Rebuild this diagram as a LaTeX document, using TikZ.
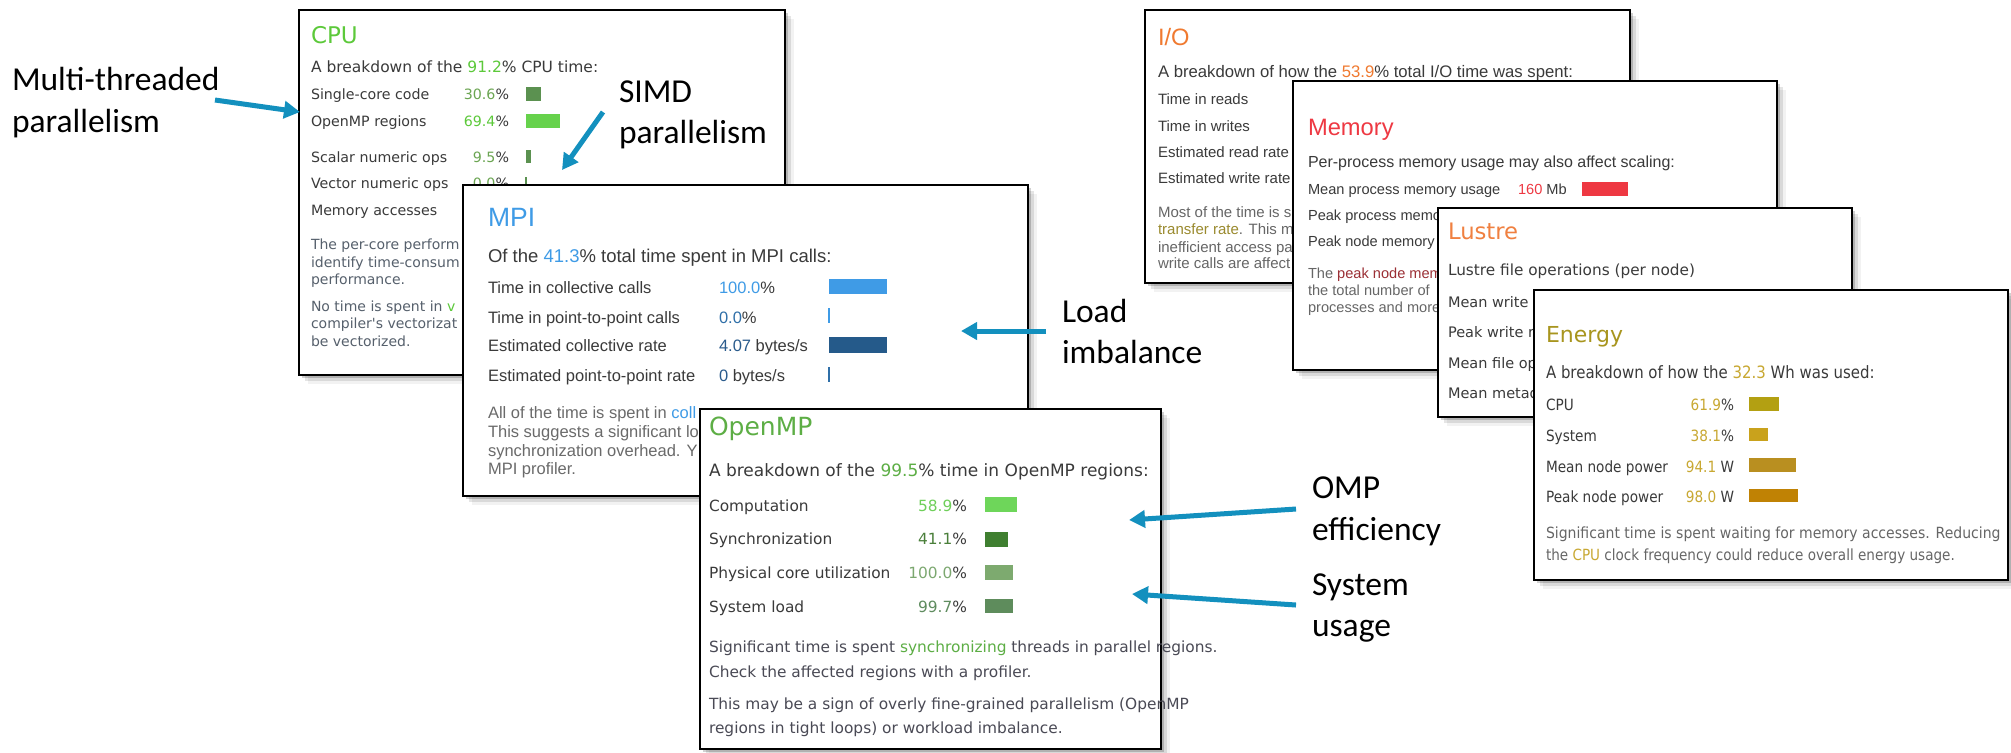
\documentclass[tikz,border=0pt]{standalone}
\usepackage{fontspec}
\usetikzlibrary{fit,shadows,arrows.meta}
\newfontfamily\dvs{DejaVu Sans}
\newfontfamily\dvn[FakeStretch=0.88]{DejaVu Sans}
\newfontfamily\dvw[FakeStretch=0.91]{DejaVu Sans}
\newfontfamily\lbs{Liberation Sans}
\newfontfamily\clb{Carlito}
\newcommand\sz[1]{\fontsize{#1pt}{#1pt}\selectfont}

% palette
\definecolor{lbl}{HTML}{3A3A3A}
\definecolor{cpug}{HTML}{5CC93A}
\definecolor{cpugdim}{HTML}{6BA552}
\definecolor{cpupara}{HTML}{56606C}
\definecolor{barlt}{HTML}{66D24C}
\definecolor{bardk}{HTML}{5B9150}
\definecolor{mpib}{HTML}{3F9BE6}
\definecolor{mpibd}{HTML}{2F6FA8}
\definecolor{mpibdd}{HTML}{2A5B8C}
\definecolor{mpibar}{HTML}{255A8A}
\definecolor{mpipara}{HTML}{6A6A6A}
\definecolor{ompg}{HTML}{5DAE45}
\definecolor{ompa}{HTML}{6FCF5A}
\definecolor{ompb}{HTML}{4A7F3A}
\definecolor{ompc}{HTML}{7CA870}
\definecolor{ompd}{HTML}{5F8C5F}
\definecolor{ompbara}{HTML}{6ED65A}
\definecolor{ompbarb}{HTML}{3F7F30}
\definecolor{ompbarc}{HTML}{7DAA6F}
\definecolor{ompbard}{HTML}{5E8C5C}
\definecolor{omppara}{HTML}{4A4A55}
\definecolor{iooran}{HTML}{F07A30}
\definecolor{iopara}{HTML}{666666}
\definecolor{olivetx}{HTML}{9A8A2E}
\definecolor{memred}{HTML}{EE3842}
\definecolor{memdark}{HTML}{9B2F35}
\definecolor{lustor}{HTML}{F08040}
\definecolor{enol}{HTML}{A8951E}
\definecolor{engold}{HTML}{C8A832}
\definecolor{ena}{HTML}{B3A012}
\definecolor{enb}{HTML}{C9A21C}
\definecolor{enc}{HTML}{B98F20}
\definecolor{endd}{HTML}{C08204}
\definecolor{arrowteal}{HTML}{1390BE}

\tikzset{
  panelbox/.style={draw=black, line width=1.4pt, fill=white, inner sep=0pt, outer sep=0pt,
    drop shadow={shadow xshift=1.5pt, shadow yshift=-1.5pt, opacity=0.18, fill=black},
    drop shadow={shadow xshift=3pt, shadow yshift=-3pt, opacity=0.10, fill=black},
    drop shadow={shadow xshift=4.5pt, shadow yshift=-4.5pt, opacity=0.05, fill=black}},
  txt/.style={inner sep=0pt, outer sep=0pt, anchor=base west},
  txr/.style={inner sep=0pt, outer sep=0pt, anchor=base east},
  lab/.style={txt, font=\clb\sz{16.75}, text=black},
  pointer/.style={draw=arrowteal, line width=2.5pt, -{Triangle[length=8pt,width=8.5pt]}},
  cpurow/.style={txt, font=\dvs\sz{7.1}, text=lbl},
  cpuval/.style={txr, font=\dvs\sz{7.1}, text=lbl},
  cpupar/.style={txt, font=\dvs\sz{7}, text=cpupara},
  mpirow/.style={txt, font=\lbs\sz{8.25}, text=lbl},
  mpipar/.style={txt, font=\lbs\sz{8.25}, text=mpipara},
  omprow/.style={txt, font=\dvs\sz{7.7}, text=lbl},
  ompval/.style={txr, font=\dvs\sz{7.7}, text=lbl},
  omppar/.style={txt, font=\dvs\sz{7.7}, text=omppara},
  iorow/.style={txt, font=\lbs\sz{7.5}, text=lbl},
  iopar/.style={txt, font=\lbs\sz{7.5}, text=iopara},
  memrow/.style={txt, font=\lbs\sz{7.3}, text=lbl},
  mempar/.style={txt, font=\lbs\sz{7.3}, text=iopara},
  lusrow/.style={txt, font=\dvs\sz{7.25}, text=lbl},
  enrow/.style={txt, font=\dvn\sz{7.75}, text=lbl},
  enval/.style={txr, font=\dvn\sz{7.75}, text=lbl},
  enpar/.style={txt, font=\dvn\sz{7.7}, text=iopara},
  enparw/.style={txt, font=\dvw\sz{7.7}, text=iopara},
}

\begin{document}
\begin{tikzpicture}[x=0.5pt, y=-0.5pt]
\fill[white] (0,0) rectangle (2011,752);
\useasboundingbox (0,0) rectangle (2011,752);

% ---------------- CPU ----------------
\coordinate (cpu-a) at (299,10); \coordinate (cpu-b) at (785,375);
\node[panelbox, fit=(cpu-a)(cpu-b)] (cpu) {};
\node[txt, font=\dvs\sz{11.5}, text=cpug] (cpu-title) at (311,43) {CPU};
\node[txt, font=\dvs\sz{7.75}, text=lbl] (cpu-head) at (311,72) {A breakdown of the \textcolor{cpug}{91.2}\% CPU time:};
\node[cpurow] (cpu-r1) at (311,99) {Single-core code};
\node[cpurow] (cpu-r2) at (311,126) {OpenMP regions};
\node[cpurow] (cpu-r3) at (311,162) {Scalar numeric ops};
\node[cpurow] (cpu-r4) at (311,188) {Vector numeric ops};
\node[cpurow] (cpu-r5) at (311,215) {Memory accesses};
\node[cpuval] (cpu-v1) at (509,99) {\textcolor{cpugdim}{30.6}\%};
\node[cpuval] (cpu-v2) at (509,126) {\textcolor{cpug}{69.4}\%};
\node[cpuval] (cpu-v3) at (509,162) {\textcolor{cpugdim}{9.5}\%};
\node[cpuval] (cpu-v4) at (509,188) {\textcolor{cpugdim}{0.0}\%};
\fill[bardk] (526,87) rectangle (541,101);
\fill[barlt] (526,114) rectangle (560,128);
\fill[bardk] (526,150) rectangle (531,163);
\draw[bardk, line width=0.6pt] (526,177) -- (526,191);
\node[cpupar] (cpu-p1) at (311,249) {The per-core perform};
\node[cpupar] (cpu-p2) at (311,267) {identify time-consum};
\node[cpupar] (cpu-p3) at (311,284) {performance.};
\node[cpupar] (cpu-p4) at (311,311) {No time is spent in \textcolor{cpug}{v}};
\node[cpupar] (cpu-p5) at (311,328) {compiler's vectorizat};
\node[cpupar] (cpu-p6) at (311,346) {be vectorized.};

% ---------------- MPI ----------------
\coordinate (mpi-a) at (463,185); \coordinate (mpi-b) at (1028,496);
\node[panelbox, fit=(mpi-a)(mpi-b)] (mpi) {};
\node[txt, font=\lbs\sz{13.25}, text=mpib] (mpi-title) at (488,226) {MPI};
\node[txt, font=\lbs\sz{9.25}, text=lbl] (mpi-head) at (488,262) {Of the \textcolor{mpib}{41.3}\% total time spent in MPI calls:};
\node[mpirow] (mpi-r1) at (488,293) {Time in collective calls};
\node[mpirow] (mpi-r2) at (488,323) {Time in point-to-point calls};
\node[mpirow] (mpi-r3) at (488,351) {Estimated collective rate};
\node[mpirow] (mpi-r4) at (488,381) {Estimated point-to-point rate};
\node[mpirow] (mpi-v1) at (719,293) {\textcolor{mpib}{100.0}\%};
\node[mpirow] (mpi-v2) at (719,323) {\textcolor{mpibd}{0.0}\%};
\node[mpirow] (mpi-v3) at (719,351) {\textcolor{mpibdd}{4.07} bytes/s};
\node[mpirow] (mpi-v4) at (719,381) {\textcolor{mpibdd}{0} bytes/s};
\fill[mpib] (829,279) rectangle (887,294);
\draw[mpib, line width=0.6pt] (829,308) -- (829,323);
\fill[mpibar] (829,337) rectangle (887,353);
\draw[mpibd, line width=0.6pt] (829,367) -- (829,382);
\node[mpipar] (mpi-p1) at (488,418) {All of the time is spent in \textcolor{mpib}{coll}};
\node[mpipar] (mpi-p2) at (488,437) {This suggests a significant lo};
\node[mpipar] (mpi-p3) at (488,456) {synchronization overhead. Y};
\node[mpipar] (mpi-p4) at (488,474) {MPI profiler.};

% ---------------- OpenMP ----------------
\coordinate (omp-a) at (700,409); \coordinate (omp-b) at (1161,749);
\node[panelbox, fit=(omp-a)(omp-b)] (omp) {};
\node[txt, font=\dvs\sz{12.5}, text=ompg] (omp-title) at (709,435) {OpenMP};
\node[txt, font=\dvs\sz{8.5}, text=lbl] (omp-head) at (709,476) {A breakdown of the \textcolor{ompg}{99.5}\% time in OpenMP regions:};
\node[omprow] (omp-r1) at (709,511) {Computation};
\node[omprow] (omp-r2) at (709,544) {Synchronization};
\node[omprow] (omp-r3) at (709,578) {Physical core utilization};
\node[omprow] (omp-r4) at (709,612) {System load};
\node[ompval] (omp-v1) at (967,511) {\textcolor{ompa}{58.9}\%};
\node[ompval] (omp-v2) at (967,544) {\textcolor{ompb}{41.1}\%};
\node[ompval] (omp-v3) at (967,578) {\textcolor{ompc}{100.0}\%};
\node[ompval] (omp-v4) at (967,612) {\textcolor{ompd}{99.7}\%};
\fill[ompbara] (985,497) rectangle (1017,512);
\fill[ompbarb] (985,532) rectangle (1008,547);
\fill[ompbarc] (985,565) rectangle (1013,580);
\fill[ompbard] (985,599) rectangle (1013,613);
\node[omppar] (omp-p1) at (709,652) {Significant time is spent \textcolor{ompg}{synchronizing} threads in parallel regions.};
\node[omppar] (omp-p2) at (709,677) {Check the affected regions with a profiler.};
\node[omppar] (omp-p3) at (709,709) {This may be a sign of overly fine-grained parallelism (OpenMP};
\node[omppar] (omp-p4) at (709,733) {regions in tight loops) or workload imbalance.};

% ---------------- I/O ----------------
\coordinate (io-a) at (1145,10); \coordinate (io-b) at (1630,283);
\node[panelbox, fit=(io-a)(io-b)] (io) {};
\node[txt, font=\lbs\sz{11.85}, text=iooran] (io-title) at (1158,45) {I/O};
\node[txt, font=\lbs\sz{8.35}, text=lbl] (io-head) at (1158,77) {A breakdown of how the \textcolor{iooran}{53.9}\% total I/O time was spent:};
\node[iorow] (io-r1) at (1158,104) {Time in reads};
\node[iorow] (io-r2) at (1158,131) {Time in writes};
\node[iorow] (io-r3) at (1158,157) {Estimated read rate};
\node[iorow] (io-r4) at (1158,183) {Estimated write rate};
\node[iopar] (io-p1) at (1158,217) {Most of the time is s};
\node[iopar] (io-p2) at (1158,234) {\textcolor{olivetx}{transfer rate}. This m};
\node[iopar] (io-p3) at (1158,252) {inefficient access pa};
\node[iopar] (io-p4) at (1158,268) {write calls are affect};

% ---------------- Memory ----------------
\coordinate (mem-a) at (1293,81); \coordinate (mem-b) at (1777,370);
\node[panelbox, fit=(mem-a)(mem-b)] (mem) {};
\node[txt, font=\lbs\sz{11.85}, text=memred] (mem-title) at (1308,135) {Memory};
\node[txt, font=\lbs\sz{8}, text=lbl] (mem-head) at (1308,167) {Per-process memory usage may also affect scaling:};
\node[memrow] (mem-r1) at (1308,194) {Mean process memory usage};
\node[memrow] (mem-r2) at (1308,220) {Peak process memo};
\node[memrow] (mem-r3) at (1308,246) {Peak node memory};
\node[memrow] (mem-v1) at (1518,194) {\textcolor{memred}{160} Mb};
\fill[memred] (1582,182) rectangle (1628,196);
\fill[memred] (1582,207) rectangle (1632,221);
\node[mempar] (mem-p1) at (1308,278) {The \textcolor{memdark}{peak node mem}};
\node[mempar] (mem-p2) at (1308,295) {the total number of};
\node[mempar] (mem-p3) at (1308,312) {processes and more};

% ---------------- Lustre ----------------
\coordinate (lus-a) at (1438,208); \coordinate (lus-b) at (1852,417);
\node[panelbox, fit=(lus-a)(lus-b)] (lus) {};
\node[txt, font=\dvs\sz{11.35}, text=lustor] (lus-title) at (1448,239) {Lustre};
\node[txt, font=\dvs\sz{7.65}, text=lbl] (lus-head) at (1448,275) {Lustre file operations (per node)};
\node[lusrow] (lus-r1) at (1448,307) {Mean write r};
\node[lusrow] (lus-r2) at (1448,337) {Peak write ra};
\node[lusrow] (lus-r3) at (1448,368) {Mean file op};
\node[lusrow] (lus-r4) at (1448,398) {Mean metad};

% ---------------- Energy ----------------
\coordinate (en-a) at (1534,290); \coordinate (en-b) at (2008,580);
\node[panelbox, fit=(en-a)(en-b)] (en) {};
\node[txt, font=\dvs\sz{11}, text=enol] (en-title) at (1546,342) {Energy};
\node[txt, font=\dvn\sz{8.5}, text=lbl] (en-head) at (1546,378) {A breakdown of how the \textcolor{engold}{32.3} Wh was used:};
\node[enrow] (en-r1) at (1546,410) {CPU};
\node[enrow] (en-r2) at (1546,441) {System};
\node[enrow] (en-r3) at (1546,472) {Mean node power};
\node[enrow] (en-r4) at (1546,502) {Peak node power};
\node[enval] (en-v1) at (1734,410) {\textcolor{engold}{61.9}\%};
\node[enval] (en-v2) at (1734,441) {\textcolor{engold}{38.1}\%};
\node[enval] (en-v3) at (1734,472) {\textcolor{engold}{94.1} W};
\node[enval] (en-v4) at (1734,502) {\textcolor{engold}{98.0} W};
\fill[ena] (1749,397) rectangle (1779,411);
\fill[enb] (1749,428) rectangle (1768,441);
\fill[enc] (1749,458) rectangle (1796,472);
\fill[endd] (1749,489) rectangle (1798,502);
\node[enparw] (en-p1) at (1546,538) {Significant time is spent waiting for memory accesses. Reducing};
\node[enpar] (en-p2) at (1546,560) {the \textcolor{engold}{CPU} clock frequency could reduce overall energy usage.};

% ---------------- callouts ----------------
\node[lab] (mt1) at (12,90) {Multi-threaded};
\node[lab] (mt2) at (12,132) {parallelism};
\node[lab] (simd1) at (619,102) {SIMD};
\node[lab] (simd2) at (619,143) {parallelism};
\node[lab] (load1) at (1062,322) {Load};
\node[lab] (load2) at (1062,363) {imbalance};
\node[lab] (ompe1) at (1312,498) {OMP};
\node[lab] (ompe2) at (1312,540) {efficiency};
\node[lab] (sys1) at (1312,595) {System};
\node[lab] (sys2) at (1312,636) {usage};

\coordinate (mt-s) at (215,100);   \coordinate (mt-e) at (300,112);
\coordinate (simd-s) at (603,112); \coordinate (simd-e) at (562,170);
\coordinate (load-s) at (1046,331);\coordinate (load-e) at (961,331);
\coordinate (ompe-s) at (1296,509);\coordinate (ompe-e) at (1129,520);
\coordinate (sys-s) at (1296,605); \coordinate (sys-e) at (1132,594);

\draw[pointer] (mt-s) -- (mt-e);
\draw[pointer] (simd-s) -- (simd-e);
\draw[pointer] (load-s) -- (load-e);
\draw[pointer] (ompe-s) -- (ompe-e);
\draw[pointer] (sys-s) -- (sys-e);
\end{tikzpicture}
\end{document}
